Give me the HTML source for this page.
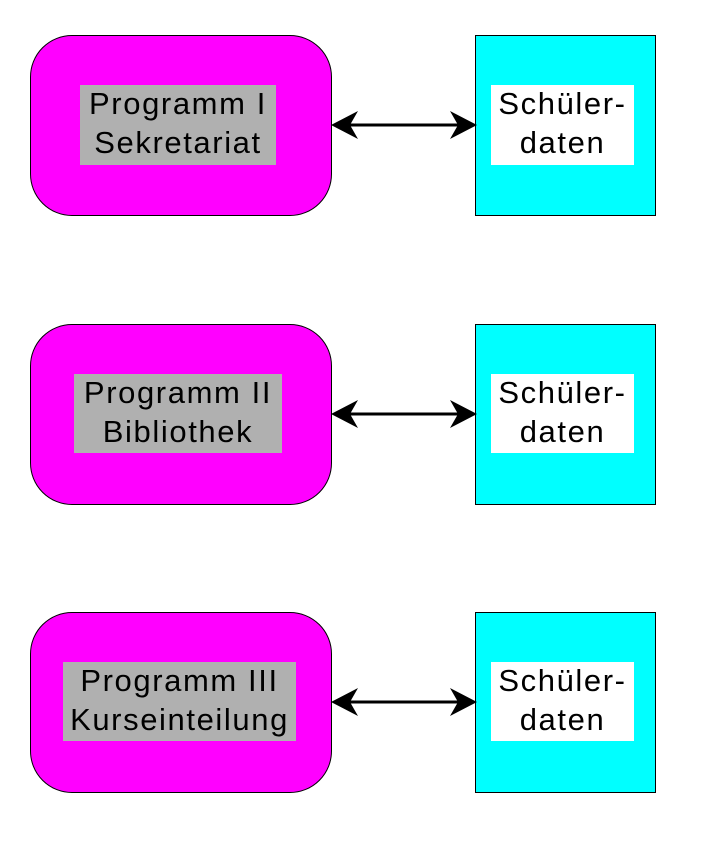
<!DOCTYPE html>
<html><head><style>
body{margin:0;width:709px;height:842px;background:#fff;position:relative;overflow:hidden;font-family:"Liberation Sans",sans-serif}
.m{position:absolute;left:30px;width:300px;height:179px;background:#f0f;border:1px solid #000;border-radius:42px}
.c{position:absolute;left:475px;width:179px;height:179px;background:#0ff;border:1px solid #000}
.l{position:absolute;display:flex;flex-direction:column;justify-content:center;align-items:center;font-size:31px;line-height:39px;letter-spacing:1.6px;color:#000;text-align:center;white-space:nowrap;box-sizing:border-box;padding-bottom:4px}
.g{background:#b0b0b0}.w{background:#fff}
svg{position:absolute;left:0;top:0}
</style></head><body>
<div class="m" style="top:35px"></div>
<div class="m" style="top:324px"></div>
<div class="m" style="top:612px"></div>
<div class="c" style="top:35px"></div>
<div class="c" style="top:324px"></div>
<div class="c" style="top:612px"></div>
<div class="l g" style="left:80px;top:85px;width:196px;height:80px">Programm I<br>Sekretariat</div>
<div class="l g" style="left:74px;top:374px;width:208px;height:79px">Programm II<br>Bibliothek</div>
<div class="l g" style="left:63px;top:662px;width:233px;height:79px">Programm III<br>Kurseinteilung</div>
<div class="l w" style="left:491px;top:85px;width:143px;height:80px">Schüler-<br>daten</div>
<div class="l w" style="left:491px;top:374px;width:143px;height:79px">Schüler-<br>daten</div>
<div class="l w" style="left:491px;top:662px;width:143px;height:79px">Schüler-<br>daten</div>
<svg width="709" height="842">
<g stroke="#000" stroke-width="3" fill="#000">
<line x1="345" y1="125" x2="462" y2="125"/>
<line x1="345" y1="414" x2="462" y2="414"/>
<line x1="345" y1="702" x2="462" y2="702"/>
</g>
<g fill="#000">
<path d="M331 125 L358 111 L350 125 L358 139Z"/><path d="M477 125 L450 111 L458 125 L450 139Z"/>
<path d="M331 414 L358 400 L350 414 L358 428Z"/><path d="M477 414 L450 400 L458 414 L450 428Z"/>
<path d="M331 702 L358 688 L350 702 L358 716Z"/><path d="M477 702 L450 688 L458 702 L450 716Z"/>
</g>
</svg>
</body></html>
